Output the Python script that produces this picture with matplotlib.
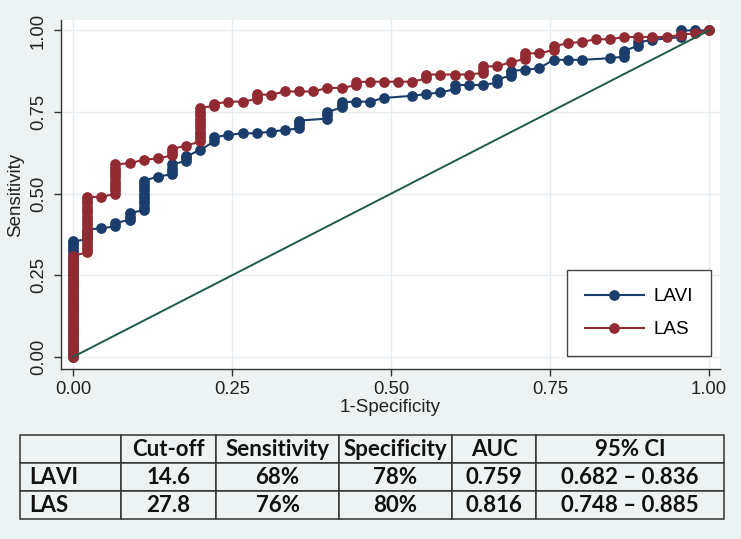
import matplotlib
matplotlib.use("Agg")
import matplotlib.pyplot as plt
import numpy as np

# ROC points: false-positive count (out of 45 negatives) and sensitivity
n_neg = 45

lavi_fp = ([0]*37 + [1]*4 + [2] + [3]*2 + [4]*3 + [5]*10 + [6] + [7]*4 + [8]*3 + [9] + [10]*2
           + [11, 12, 13, 14, 15] + [16]*4 + [18]*3 + [19]*3 + [20, 21, 22, 24, 25, 26] + [27]*2
           + [28, 29] + [30]*2 + [31]*3 + [32, 33, 34, 35, 36, 38] + [39]*3 + [40]*2 + [41]
           + [43]*3 + [44, 45])
lavi_sens = [0.00, 0.01, 0.02, 0.03, 0.04, 0.05, 0.06, 0.07, 0.08, 0.09, 0.10, 0.11, 0.12, 0.13,
             0.14, 0.15, 0.16, 0.17, 0.18, 0.19, 0.20, 0.21, 0.22, 0.23, 0.24, 0.25, 0.26, 0.27,
             0.28, 0.29, 0.30, 0.31, 0.32, 0.33, 0.34, 0.35, 0.354,
             0.36, 0.37, 0.38, 0.39,
             0.394,
             0.40, 0.41,
             0.42, 0.43, 0.44,
             0.45, 0.46, 0.47, 0.48, 0.49, 0.50, 0.51, 0.52, 0.53, 0.54,
             0.552,
             0.56, 0.57, 0.58, 0.59,
             0.60, 0.61, 0.614,
             0.634,
             0.66, 0.673,
             0.68, 0.685, 0.685, 0.69, 0.695,
             0.70, 0.71, 0.72, 0.724,
             0.73, 0.74, 0.75,
             0.764, 0.772, 0.78,
             0.782, 0.782, 0.793, 0.80, 0.805, 0.81,
             0.82, 0.833,
             0.833, 0.833,
             0.84, 0.85,
             0.862, 0.87, 0.877,
             0.879, 0.885, 0.91, 0.91, 0.91, 0.915,
             0.92, 0.93, 0.938,
             0.953, 0.964,
             0.971,
             0.98, 0.99, 1.0,
             1.0, 1.0]

las_fp = ([0]*32 + [1]*18 + [2] + [3]*10 + [4, 5, 6] + [7]*3 + [8] + [9]*11 + [10]*2 + [11, 12]
          + [13]*3 + [14, 15, 16, 17, 18, 19] + [20]*2 + [21, 22, 23, 24] + [25]*2 + [26, 27, 28]
          + [29]*3 + [30, 31] + [32]*3 + [33] + [34]*2 + [35, 36, 37, 38, 39, 40, 41, 42, 43, 44, 45])
las_sens = [0.00, 0.01, 0.02, 0.03, 0.04, 0.05, 0.06, 0.07, 0.08, 0.09, 0.10, 0.11, 0.12, 0.13,
            0.14, 0.15, 0.16, 0.17, 0.18, 0.19, 0.20, 0.21, 0.22, 0.23, 0.24, 0.25, 0.26, 0.27,
            0.28, 0.29, 0.30, 0.31,
            0.32, 0.33, 0.34, 0.35, 0.36, 0.37, 0.38, 0.39, 0.40, 0.41, 0.42, 0.43, 0.44, 0.45,
            0.46, 0.47, 0.48, 0.49,
            0.49,
            0.50, 0.51, 0.52, 0.53, 0.54, 0.55, 0.56, 0.57, 0.58, 0.59,
            0.593, 0.604, 0.608,
            0.617, 0.627, 0.637,
            0.647,
            0.66, 0.67, 0.68, 0.69, 0.70, 0.71, 0.72, 0.73, 0.74, 0.75, 0.763,
            0.769, 0.775,
            0.782, 0.782,
            0.79, 0.797, 0.804,
            0.803, 0.813, 0.813, 0.813, 0.824, 0.824,
            0.832, 0.842,
            0.843, 0.843, 0.843, 0.843,
            0.853, 0.865,
            0.865, 0.865, 0.865,
            0.87, 0.88, 0.89,
            0.89, 0.903,
            0.913, 0.922, 0.93,
            0.93,
            0.94, 0.951,
            0.961, 0.965, 0.973, 0.973, 0.98, 0.98, 0.98, 0.98, 0.987, 0.991, 1.0]

ref_x = [0, 1]
ref_y = [0, 1]

ticks = [0, 0.25, 0.5, 0.75, 1.0]
tick_labels = ["0.00", "0.25", "0.50", "0.75", "1.00"]

col_labels = ["", "Cut-off", "Sensitivity", "Specificity", "AUC", "95% CI"]
row_lavi = ["LAVI", "14.6", "68%", "78%", "0.759", "0.682 \u2013 0.836"]
row_las = ["LAS", "27.8", "76%", "80%", "0.816", "0.748 \u2013 0.885"]

BG = "#edf3f3"
NAVY = "#1a3d6b"
MAROON = "#922a31"
GREEN = "#1d5a47"

plt.rcParams['font.family'] = ['Liberation Sans', 'DejaVu Sans']

fig = plt.figure(figsize=(7.41, 5.39), dpi=100, facecolor=BG)
ax = fig.add_axes([61/741, 1-369/539, 659/741, 349/539])
ax.set_facecolor("white")

lavi_x = np.array(lavi_fp) / n_neg
las_x = np.array(las_fp) / n_neg

ax.plot(lavi_x, lavi_sens, '-', color=NAVY, lw=1.5, marker='o', ms=6.7, label="LAVI", zorder=3)
ax.plot(las_x, las_sens, '-', color=MAROON, lw=1.5, marker='o', ms=6.7, label="LAS", zorder=4)
ax.plot(ref_x, ref_y, '-', color=GREEN, lw=1.4, zorder=5)

ax.set_xlim(-0.0189, 1.0173)
ax.set_ylim(-0.037, 1.032)
ax.set_xticks(ticks)
ax.set_xticklabels(tick_labels)
ax.set_yticks(ticks)
ax.set_yticklabels(tick_labels, rotation=90, va='center')
ax.grid(True, color="#e4edf0", lw=1.0, zorder=0)
ax.set_axisbelow(True)
for s in ["top", "right"]:
    ax.spines[s].set_visible(False)
for s in ["left", "bottom"]:
    ax.spines[s].set_color("#333333")
    ax.spines[s].set_linewidth(1.0)
ax.tick_params(axis='both', colors="#333333", labelcolor="#222222", length=5, width=1.0, labelsize=13.3)
ax.tick_params(axis='x', pad=4)
ax.tick_params(axis='y', pad=5)
ax.set_xlabel("1-Specificity", fontsize=13.5, color="#222222", labelpad=0)
ax.set_ylabel("Sensitivity", fontsize=13.5, color="#222222", labelpad=4)

leg = fig.legend(handles=ax.get_lines()[:2], loc='upper left', bbox_to_anchor=(567/741, 1-270/539),
                 fontsize=13.6, handlelength=3.1, handletextpad=0.55, borderpad=0.95, labelspacing=0.85,
                 fancybox=False, framealpha=1, borderaxespad=0)
leg.get_frame().set_edgecolor("#444444")
leg.get_frame().set_linewidth(1.0)

# table
tax = fig.add_axes([20/741, (539-519)/539, 704/741, 84/539])
tax.axis('off')
widths = np.array([101, 95, 123, 113, 84, 188]) / 704
tbl = tax.table(cellText=[col_labels, row_lavi, row_las], bbox=[0, 0, 1, 1], colWidths=list(widths),
                cellLoc='center')
tbl.auto_set_font_size(False)
for (r, c), cell in tbl.get_celld().items():
    cell.set_facecolor(BG)
    cell.set_edgecolor("#333333")
    cell.set_linewidth(1.1)
    cell.get_text().set_fontsize(16)
    cell.get_text().set_fontfamily("Lato")
    cell.get_text().set_fontweight("bold")
    cell.get_text().set_color("#111111")
    if c == 0:
        cell.get_text().set_horizontalalignment('left')
        cell.PAD = 0.09

fig.savefig("out.png", dpi=100, facecolor=BG)
